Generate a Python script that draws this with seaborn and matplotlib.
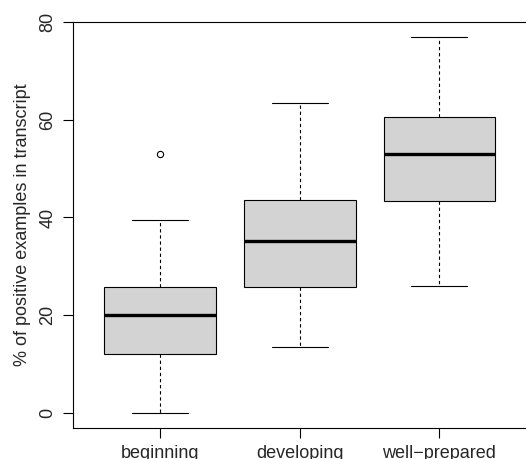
import matplotlib
matplotlib.use('Agg')
import matplotlib.pyplot as plt
import seaborn as sns

# hand-read values per group (chosen so the quartiles match the picture)
beginning = [0, 5, 12, 16, 20, 23, 25.7, 39.5, 53]
developing = [13.5, 20, 25.8, 30, 35.2, 39, 43.5, 52, 63.5]
well_prepared = [26, 36, 43.4, 48, 53, 57, 60.6, 68, 77]

categories = ['beginning', 'developing', 'well\u2212prepared']
y_ticks = [0, 20, 40, 60, 80]

groups = ([categories[0]] * len(beginning) + [categories[1]] * len(developing)
          + [categories[2]] * len(well_prepared))
values = beginning + developing + well_prepared

sns.set_style('ticks')
plt.rcParams['font.family'] = ['Liberation Sans', 'DejaVu Sans']

fig = plt.figure(figsize=(5.26, 4.59), dpi=100)
ax = fig.add_axes([73 / 526, 1 - 428 / 459, 453 / 526, 406 / 459])

sns.boxplot(ax=ax, x=groups, y=values, order=categories, color='#D3D3D3',
            saturation=1, linecolor='black', linewidth=0.8, width=0.8,
            whis=1.5,
            medianprops={'color': 'black', 'linewidth': 2.4},
            whiskerprops={'linestyle': (0, (3, 2.5)), 'linewidth': 0.8},
            capprops={'linestyle': '-', 'linewidth': 0.8},
            flierprops={'marker': 'o', 'markerfacecolor': 'none',
                        'markeredgecolor': 'black', 'markersize': 4.5,
                        'markeredgewidth': 0.8})

# axes ranges and ticks
ax.set_xlim(-0.624, 2.62)
ax.set_ylim(-3.07, 80)
ax.set_yticks(y_ticks)
ax.set_yticklabels([str(t) for t in y_ticks], rotation=90, va='center')
ax.tick_params(axis='both', labelsize=13, length=7, width=0.8, color='black')
ax.tick_params(axis='y', pad=5)
ax.tick_params(axis='x', pad=5)

ax.set_xlabel('')
ax.set_ylabel('% of positive examples in transcript', size=13, labelpad=6)

for side in ['left', 'bottom', 'top']:
    ax.spines[side].set_color('black')
    ax.spines[side].set_linewidth(0.8)
ax.spines['right'].set_visible(False)

fig.savefig('out.png', dpi=100)
